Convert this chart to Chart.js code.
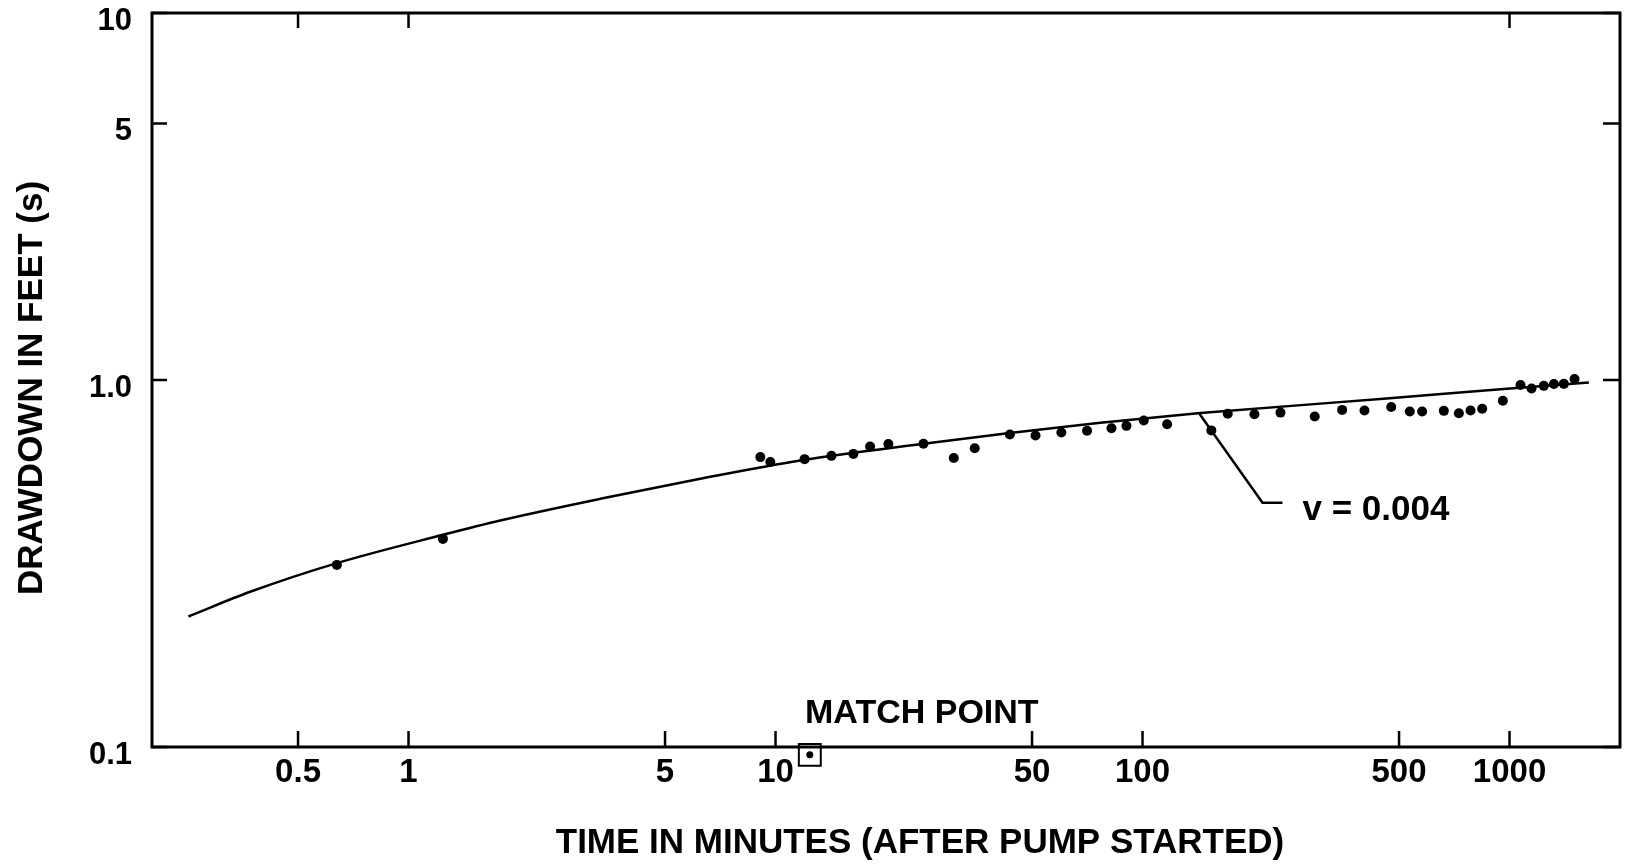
<!DOCTYPE html>
<html>
<head>
<meta charset="utf-8">
<title>Drawdown vs time</title>
<script src="https://cdn.jsdelivr.net/npm/chart.js@4.4.1/dist/chart.umd.min.js"></script>
<style>
    html, body { margin: 0; padding: 0; background: #fff; }
    #wrap { width: 1626px; height: 866px; }
</style>
</head>
<body>
<div id="wrap"><canvas id="chart" width="1626" height="866"></canvas></div>
<script>
// observed drawdown (minutes after pump started, feet)
const timeMin = [0.638, 1.241, 9.09, 9.68, 12.0, 14.2, 16.3, 18.1, 20.3, 25.3, 30.6, 34.9, 43.5, 51.1,
    60.1, 70.6, 82.3, 90.4, 100.8, 116.7, 154, 170.7, 201.8, 237.6, 294.6, 349.9, 402.5, 476, 534.9,
    578, 662.2, 727.7, 783, 842.6, 959, 1071.5, 1148, 1240, 1321, 1406, 1504];
const drawdownFt = [0.3135, 0.369, 0.6165, 0.5975, 0.6086, 0.6213, 0.629, 0.659, 0.669, 0.670, 0.613,
    0.652, 0.710, 0.706, 0.719, 0.727, 0.739, 0.750, 0.776, 0.758, 0.729, 0.809, 0.807, 0.815, 0.795,
    0.829, 0.826, 0.844, 0.821, 0.821, 0.824, 0.812, 0.826, 0.835, 0.878, 0.969, 0.948, 0.964, 0.975,
    0.976, 1.006];

// type curve v = 0.004
const curveT = [0.2514, 0.3703, 0.638, 1.241, 1.778, 3.331, 6.237, 11.68, 25.33, 43.46, 76.8, 143.8, 453.6, 945, 1645];
const curveS = [0.2268, 0.2648, 0.3170, 0.3786, 0.4142, 0.4745, 0.538, 0.6034, 0.670, 0.7166, 0.7647, 0.8124, 0.8888, 0.9434, 0.9844];

// leader from the curve to its label
const leaderT = [142.9, 212.3, 240.6];
const leaderS = [0.809, 0.4627, 0.4627];
const curveLabel = 'v = 0.004';

// match point
const matchT = [12.4];
const matchS = [0.0952];

const xTicks = [0.5, 1, 5, 10, 50, 100, 500, 1000];
const xTopTicks = [0.5, 1, 1000];
const yTicks = [0.1, 1, 5, 10];
const yTickLabels = ['0.1', '1.0', '5', '10'];

const FONT = "'Liberation Sans', Arial, Helvetica, sans-serif";

const toXY = (xs, ys) => xs.map((v, i) => ({ x: v, y: ys[i] }));

// keep the plot frame where the sheet has it: no extra room for edge labels
function noEdgePadding(s) {
    s.paddingTop = 0;
    s.paddingBottom = 0;
    s.paddingLeft = 0;
    s.paddingRight = 0;
}

// frame, inward ticks and the hand lettering
const sheet = {
    id: 'sheet',
    afterDraw(chart) {
        const { ctx, chartArea: a, scales: { x, y } } = chart;
        ctx.save();
        ctx.strokeStyle = '#000';
        ctx.lineWidth = 3;
        ctx.strokeRect(a.left, a.top, a.right - a.left, a.bottom - a.top);

        ctx.lineWidth = 2.5;
        ctx.beginPath();
        xTicks.forEach(v => {
            const px = x.getPixelForValue(v);
            ctx.moveTo(px, a.bottom);
            ctx.lineTo(px, a.bottom - 16);
        });
        xTopTicks.forEach(v => {
            const px = x.getPixelForValue(v);
            ctx.moveTo(px, a.top);
            ctx.lineTo(px, a.top + 15);
        });
        yTicks.forEach(v => {
            const py = y.getPixelForValue(v);
            ctx.moveTo(a.left, py);
            ctx.lineTo(a.left + 15, py);
            ctx.moveTo(a.right, py);
            ctx.lineTo(a.right - 17, py);
        });
        ctx.stroke();

        ctx.fillStyle = '#000';
        ctx.textBaseline = 'alphabetic';

        // axis titles
        ctx.font = 'bold 35px ' + FONT;
        ctx.textAlign = 'center';
        ctx.fillText('TIME IN MINUTES (AFTER PUMP STARTED)', (a.left + a.right) / 2 + 34, a.bottom + 106);
        ctx.save();
        ctx.translate(a.left - 110, (a.top + a.bottom) / 2 + 8);
        ctx.rotate(-Math.PI / 2);
        ctx.fillText('DRAWDOWN IN FEET (s)', 0, 0);
        ctx.restore();

        // match point caption
        ctx.font = 'bold 34px ' + FONT;
        ctx.fillText('MATCH POINT', x.getPixelForValue(matchT[0]) + 112, a.bottom - 24);

        // curve caption at the end of the leader
        const lx = x.getPixelForValue(leaderT[leaderT.length - 1]);
        const ly = y.getPixelForValue(leaderS[leaderS.length - 1]);
        ctx.font = 'bold 35px ' + FONT;
        ctx.textAlign = 'left';
        ctx.fillText(curveLabel, lx + 20, ly + 17);
        ctx.restore();
    }
};

new Chart(document.getElementById('chart'), {
    type: 'scatter',
    data: {
        datasets: [
            {
                label: 'type curve',
                data: toXY(curveT, curveS),
                showLine: true,
                borderColor: '#000',
                borderWidth: 2.5,
                pointRadius: 0,
                tension: 0.4,
                cubicInterpolationMode: 'monotone'
            },
            {
                label: 'leader',
                data: toXY(leaderT, leaderS),
                showLine: true,
                borderColor: '#000',
                borderWidth: 2.5,
                pointRadius: 0,
                tension: 0
            },
            {
                label: 'observed',
                data: toXY(timeMin, drawdownFt),
                pointRadius: 5,
                pointBorderWidth: 0,
                backgroundColor: '#000',
                borderColor: '#000'
            },
            {
                label: 'match box',
                data: toXY(matchT, matchS),
                pointStyle: 'rect',
                pointRadius: 15.5,
                pointBorderWidth: 2,
                backgroundColor: 'rgba(0,0,0,0)',
                borderColor: '#000',
                clip: false
            },
            {
                label: 'match dot',
                data: toXY(matchT, matchS),
                pointRadius: 3.5,
                pointBorderWidth: 12,
                backgroundColor: '#000',
                borderColor: 'rgba(0,0,0,0)',
                clip: false
            }
        ]
    },
    options: {
        responsive: false,
        animation: false,
        events: [],
        // the big match-point box would otherwise shrink the plot through auto padding
        layout: { autoPadding: false, padding: { left: 0, top: 13, right: 6, bottom: 0 } },
        plugins: { legend: { display: false }, tooltip: { enabled: false } },
        scales: {
            x: {
                type: 'logarithmic',
                min: 0.2,
                max: 2000,
                grid: { display: false, drawTicks: false },
                border: { display: false },
                afterBuildTicks: s => { s.ticks = xTicks.map(v => ({ value: v })); },
                afterFit: s => { s.height = 119; noEdgePadding(s); },
                ticks: {
                    autoSkip: false,
                    maxRotation: 0,
                    padding: 6,
                    color: '#000',
                    font: { family: FONT, size: 33, weight: 'bold' },
                    callback: v => String(v)
                }
            },
            y: {
                type: 'logarithmic',
                min: 0.1,
                max: 10,
                // label gap comes from tickLength, tick marks themselves are drawn by the plugin
                grid: { display: false, drawTicks: true, tickLength: 20 },
                border: { display: false },
                afterBuildTicks: s => { s.ticks = yTicks.map(v => ({ value: v })); },
                afterFit: s => { s.width = 152; noEdgePadding(s); },
                ticks: {
                    autoSkip: false,
                    padding: 0,
                    labelOffset: 8,
                    color: '#000',
                    font: { family: FONT, size: 31, weight: 'bold', lineHeight: 0.8 },
                    callback: (v, i) => yTickLabels[i]
                }
            }
        }
    },
    plugins: [sheet]
});
</script>
</body>
</html>
